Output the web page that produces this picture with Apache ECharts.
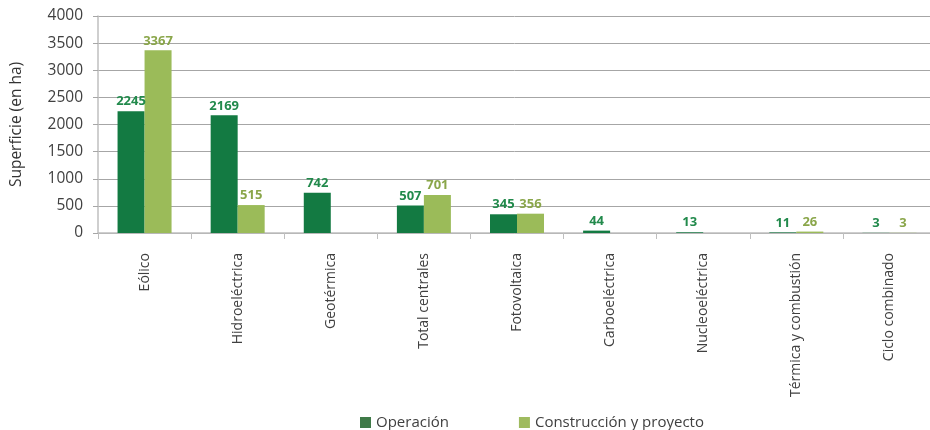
<!DOCTYPE html>
<html><head><meta charset="utf-8">
<script src="https://cdn.jsdelivr.net/npm/echarts@6/dist/echarts.min.js"></script>
<style>html,body{margin:0;padding:0;background:#fff}#c{width:930px;height:430px}</style>
</head><body><div id="c"></div>
<script>
const categories = ["Eólico","Hidroeléctrica","Geotérmica","Total centrales","Fotovoltaica","Carboeléctrica","Nucleoeléctrica","Térmica y combustión","Ciclo combinado"];
const operacion = [2245, 2169, 742, 507, 345, 44, 13, 11, 3];
const construccion = [3367, 515, null, 701, 356, null, null, 26, 3];
const seriesNames = ["Operación", "Construcción y proyecto"];
const yTicks = {min: 0, max: 4000, interval: 500};

const chart = echarts.init(document.getElementById('c'));
const font = "'Open Sans', sans-serif";
chart.setOption({
  animation: false,
  grid: {left: 98, width: 838, top: 16, bottom: 197, outerBoundsMode: 'none', containLabel: false},
  legend: {
    top: 410, left: 355, itemWidth: 11, itemHeight: 11, itemGap: 70,
    icon: 'rect',
    textStyle: {fontFamily: font, fontSize: 15, color: '#404040'},
    data: [{name: seriesNames[0], itemStyle: {color: '#3f7a48'}}, {name: seriesNames[1], itemStyle: {color: '#9fbb5f'}}]
  },
  xAxis: {
    type: 'category', data: categories,
    axisLine: {lineStyle: {color: '#bfbfbf', width: 1.5}},
    axisTick: {show: true, length: 6, lineStyle: {color: '#bfbfbf'}},
    axisLabel: {rotate: 90, margin: 20, fontFamily: font, fontSize: 14, color: '#404040'}
  },
  yAxis: {
    type: 'value', min: yTicks.min, max: yTicks.max, interval: yTicks.interval,
    name: 'Superficie (en ha)', nameLocation: 'middle', nameGap: 73,
    nameTextStyle: {fontFamily: font, fontSize: 15.5, color: '#333'},
    axisLine: {show: true, lineStyle: {color: '#bfbfbf', width: 1.5}},
    axisTick: {show: true, length: 5, lineStyle: {color: '#a6a6a6'}},
    axisLabel: {fontFamily: font, fontSize: 15.5, color: '#404040', margin: 15, formatter: v => String(v)},
    splitLine: {lineStyle: {color: '#a6a6a6', width: 1}}
  },
  series: [
    {name: seriesNames[0], type: 'bar', data: operacion, barGap: '0%', barCategoryGap: '42%',
     itemStyle: {color: '#137a42'},
     label: {show: true, position: 'top', distance: 3, fontFamily: font, fontWeight: 'bold', fontSize: 13, color: '#228a4c'}},
    {name: seriesNames[1], type: 'bar', data: construccion, barGap: '0%', barCategoryGap: '42%',
     itemStyle: {color: '#9bbb59'},
     label: {show: true, position: 'top', distance: 3, fontFamily: font, fontWeight: 'bold', fontSize: 13, color: '#8aa64a'}}
  ]
});
</script></body></html>
